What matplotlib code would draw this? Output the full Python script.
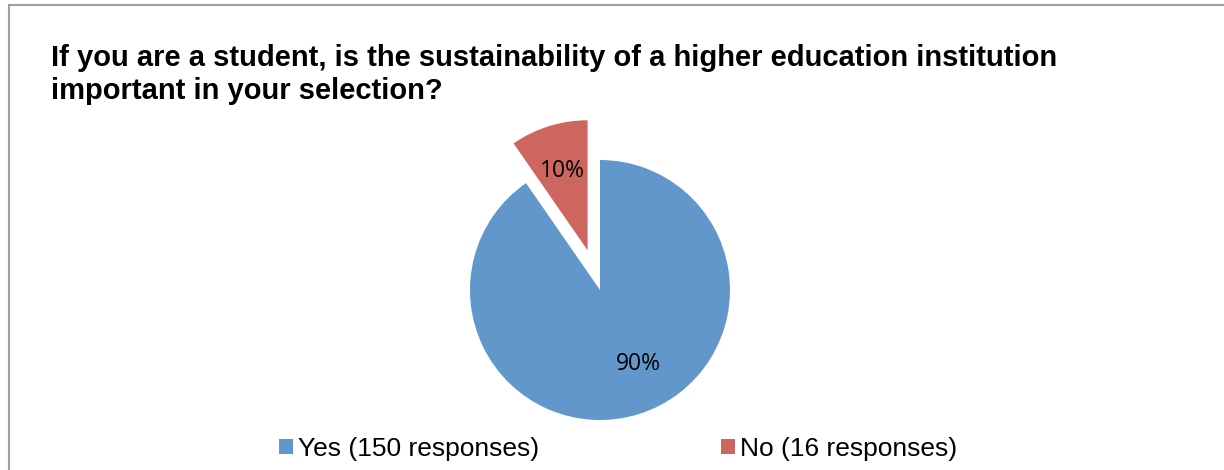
import matplotlib
matplotlib.use("Agg")
import numpy as np
import matplotlib.pyplot as plt
from matplotlib.patches import Patch
from matplotlib.lines import Line2D

categories = ["Yes (150 responses)", "No (16 responses)"]
values = [150, 16]
pct_labels = ["90%", "10%"]
colors = ["#6197CB", "#CC665F"]
title = "If you are a student, is the sustainability of a higher education institution\nimportant in your selection?"

W, H = 1224, 470
fig = plt.figure(figsize=(W / 100, H / 100), dpi=100)
fig.patch.set_facecolor("white")

# frame (cropped on right and bottom)
fig.add_artist(Line2D([9 / W, 1.0], [1 - 5 / H, 1 - 5 / H], color="#A0A0A0", lw=1.5, transform=fig.transFigure))
fig.add_artist(Line2D([9 / W, 9 / W], [0, 1 - 5 / H], color="#A0A0A0", lw=1.5, transform=fig.transFigure))

fig.text(51 / W, 1 - 44 / H, title, ha="left", va="top", fontsize=21, fontweight="bold",
         family="Liberation Sans", linespacing=1.22)

R = 130
cx, cy = 600, H - 290
half = 170
ax = fig.add_axes([(cx - half) / W, (cy - half) / H, 2 * half / W, 2 * half / H])
wedges, texts = ax.pie(values, colors=colors, startangle=90, counterclock=False,
                       explode=[0, 0.32], radius=1.0,
                       labels=pct_labels, labeldistance=0.64,
                       textprops=dict(fontsize=16.5, family="Open Sans", color="black", ha="center", va="center"),
                       wedgeprops=dict(linewidth=0))
# nudge the large-slice label a bit toward the slice's right side (as in the source)
w0 = wedges[0]
mid = np.deg2rad((w0.theta1 + w0.theta2) / 2 + 10)
texts[0].set_position((0.64 * np.cos(mid), 0.64 * np.sin(mid)))

lim = half / R
ax.set_xlim(-lim, lim)
ax.set_ylim(-lim, lim)
ax.set_aspect("equal")
ax.axis("off")

handles = [Patch(facecolor=c, edgecolor="none") for c in colors]
fig.legend(handles, categories, loc="center", bbox_to_anchor=(618 / W, 1 - 449 / H), ncol=2,
           frameon=False, prop=dict(family="Liberation Sans", size=19),
           handlelength=0.52, handleheight=0.52, handletextpad=0.2, columnspacing=6.9)

fig.savefig("out.png", dpi=100, facecolor="white")
